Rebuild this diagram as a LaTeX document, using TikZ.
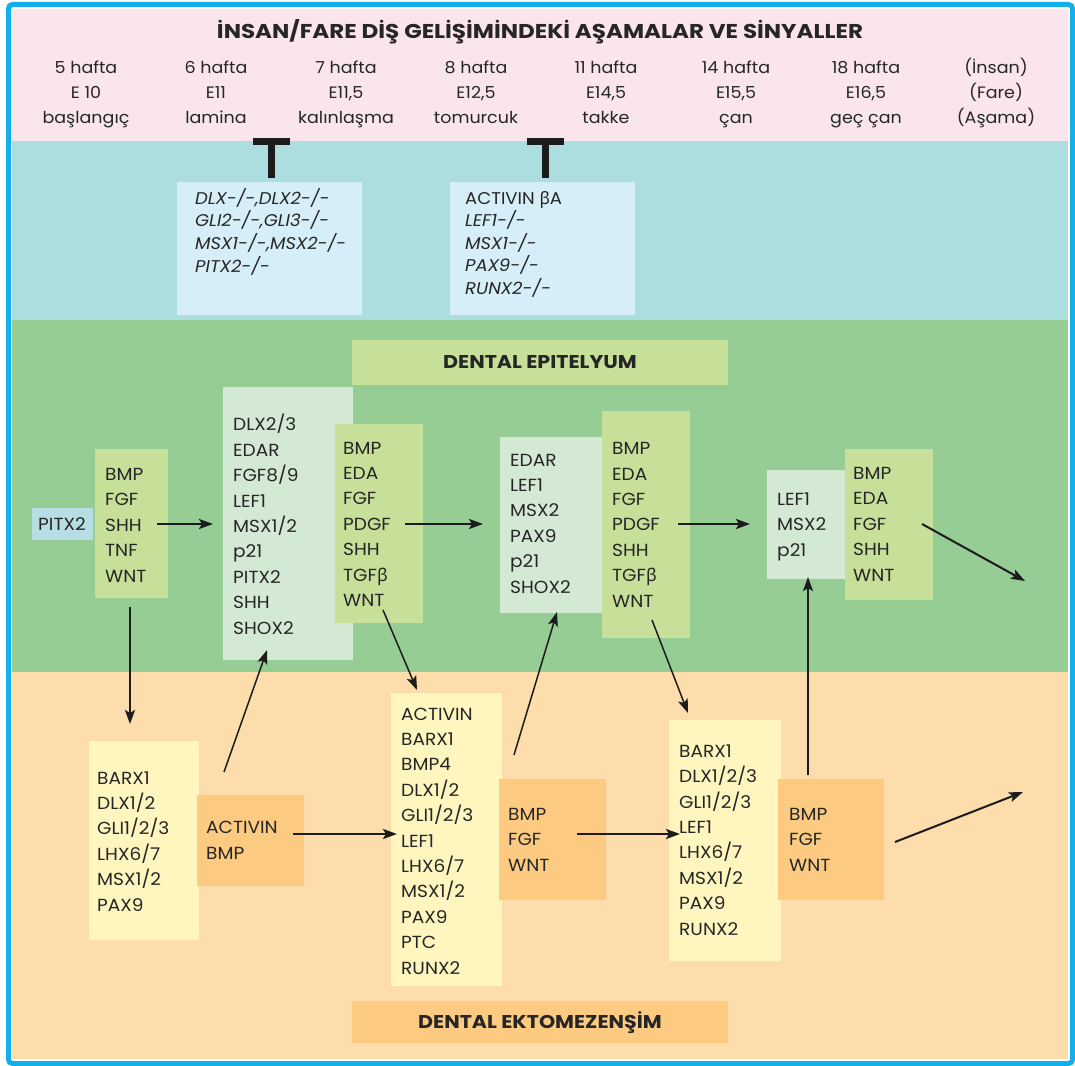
\documentclass[tikz,border=0pt]{standalone}
\usepackage{fontspec}
\setmainfont{Poppins}[FakeStretch=1.06]
\newfontfamily\grk{Noto Sans}
\usetikzlibrary{arrows.meta,fit}
\definecolor{cFrame}{HTML}{12AEEE}
\definecolor{cPink}{HTML}{FAE5EC}
\definecolor{cBlueBand}{HTML}{ACDEDF}
\definecolor{cBlueBox}{HTML}{D5EEF8}
\definecolor{cGreen}{HTML}{95CD95}
\definecolor{cYG}{HTML}{C6DF99}
\definecolor{cPaleG}{HTML}{D4E9D3}
\definecolor{cOrangeBand}{HTML}{FDDDAB}
\definecolor{cPaleY}{HTML}{FFF6BF}
\definecolor{cOrange}{HTML}{FCCB81}
\definecolor{cPitx}{HTML}{B6DEE4}
\definecolor{cText}{HTML}{262626}
\definecolor{cArr}{HTML}{1C1C1C}
\begin{document}
\begin{tikzpicture}[x=1pt,y=-1pt,
  bx/.style={inner sep=0pt, outer sep=0pt, draw=none},
  lst/.style={anchor=base west, align=left, inner sep=0pt, text=cText, font=\fontsize{17.5}{25.4}\selectfont},
  ilst/.style={anchor=base west, align=left, inner sep=0pt, text=cText, font=\itshape\fontsize{17}{22.6}\selectfont},
  hdr/.style={anchor=base, align=center, inner sep=0pt, text=cText, font=\fontsize{16.5}{25}\selectfont},
  ttl/.style={anchor=base, inner sep=0pt, text=cText, font=\bfseries\fontsize{20}{22}\selectfont},
  lbl/.style={anchor=base, inner sep=0pt, text=cText, font=\bfseries\fontsize{18.5}{20}\selectfont},
  arr/.style={draw=cArr, line width=2.4pt, -{Stealth[length=14pt,width=10pt,inset=3pt]}},
  arrt/.style={arr, line width=1.5pt},
  tbar/.style={draw=cArr, line width=7pt}]
\useasboundingbox (0,0) rectangle (1075,1065);
% bands
\fill[cPink] (12,9) rectangle (1068,141);
\fill[cBlueBand] (12,141) rectangle (1068,320);
\fill[cGreen] (12,320) rectangle (1068,672);
\fill[cOrangeBand] (12,672) rectangle (1068,1059);
\draw[cFrame, line width=5pt, rounded corners=4pt] (8.5,4.5) rectangle (1072.5,1063.5);

% title and stages (multi-line nodes: base = last line)
\node[ttl] (title) at (540,38.5) {\scalebox{1.085}[1]{İNSAN/FARE DİŞ GELİŞİMİNDEKİ AŞAMALAR VE SİNYALLER}};
\node[hdr] (h1) at (86,123) {5 hafta\\E 10\\başlangıç};
\node[hdr] (h2) at (216,123) {6 hafta\\E11\\lamina};
\node[hdr] (h3) at (346,123) {7 hafta\\E11,5\\kalınlaşma};
\node[hdr] (h4) at (476,123) {8 hafta\\E12,5\\tomurcuk};
\node[hdr] (h5) at (606,123) {11 hafta\\E14,5\\takke};
\node[hdr] (h6) at (736,123) {14 hafta\\E15,5\\çan};
\node[hdr] (h7) at (866,123) {18 hafta\\E16,5\\geç çan};
\node[hdr] (h8) at (996,123) {(İnsan)\\(Fare)\\(Aşama)};

% knockout boxes
\node[bx, fill=cBlueBox, fit={(177,182)(362,315)}] (inhA) {};
\node[bx, fill=cBlueBox, fit={(450,182)(635,315)}] (inhB) {};
\node[ilst] (inhAt) at (195,272) {DLX-/-,DLX2-/-\\GLI2-/-,GLI3-/-\\MSX1-/-,MSX2-/-\\PITX2-/-};
\node[ilst] (inhBt) at (465,294.5) {{\upshape ACTIVIN {\grk β}A}\\LEF1-/-\\MSX1-/-\\PAX9-/-\\RUNX2-/-};
\draw[tbar] ([xshift=2pt,yshift=4pt]inhA.north) -- ++(0,-37.5);
\draw[tbar] ([xshift=-16.5pt,yshift=40.5pt]inhA.north) -- ++(37,0);
\draw[tbar] ([xshift=2.5pt,yshift=4pt]inhB.north) -- ++(0,-37.5);
\draw[tbar] ([xshift=-16pt,yshift=40.5pt]inhB.north) -- ++(37,0);

% epithelium
\node[bx, fill=cYG, fit={(352,340)(728,385)}] (epiL) {};
\node[lbl] (epiLt) at (540,368.5) {\scalebox{1.05}[1]{DENTAL EPITELYUM}};
\node[bx, fill=cPitx, fit={(32,508)(93,540)}] (pitx) {};
\node[lst] (pitxt) at (38,530) {PITX2};
\node[bx, fill=cYG, fit={(95,449)(168,598)}] (epiA) {};
\node[lst] (epiAt) at (105,582) {BMP\\FGF\\SHH\\TNF\\WNT};
\node[bx, fill=cPaleG, fit={(223,387)(353,660)}] (epiB) {};
\node[lst] (epiBt) at (233,634) {DLX2/3\\EDAR\\FGF8/9\\LEF1\\MSX1/2\\p21\\PITX2\\SHH\\SHOX2};
\node[bx, fill=cYG, fit={(335,424)(423,623)}] (epiC) {};
\node[lst] (epiCt) at (343,606.5) {BMP\\EDA\\FGF\\PDGF\\SHH\\TGF{\grk β}\\WNT};
\node[bx, fill=cPaleG, fit={(500,437)(602,613)}] (epiD) {};
\node[lst] (epiDt) at (510,593) {EDAR\\LEF1\\MSX2\\PAX9\\p21\\SHOX2};
\node[bx, fill=cYG, fit={(602,411)(690,638)}] (epiE) {};
\node[lst] (epiEt) at (612,607) {BMP\\EDA\\FGF\\PDGF\\SHH\\TGF{\grk β}\\WNT};
\node[bx, fill=cPaleG, fit={(767,470)(846,579)}] (epiF) {};
\node[lst] (epiFt) at (777,556) {LEF1\\MSX2\\p21};
\node[bx, fill=cYG, fit={(845,449)(933,600)}] (epiG) {};
\node[lst] (epiGt) at (853,581) {BMP\\EDA\\FGF\\SHH\\WNT};

% mesenchyme
\node[bx, fill=cOrange, fit={(352,1001)(728,1043)}] (mesL) {};
\node[lbl] (mesLt) at (540,1028.5) {\scalebox{1.05}[1]{DENTAL EKTOMEZENŞİM}};
\node[bx, fill=cPaleY, fit={(89,741)(199,940)}] (mesA) {};
\node[lst] (mesAt) at (97,911) {BARX1\\DLX1/2\\GLI1/2/3\\LHX6/7\\MSX1/2\\PAX9};
\node[bx, fill=cOrange, fit={(197,795)(304,886)}] (mesB) {};
\node[lst] (mesBt) at (206,859) {ACTIVIN\\BMP};
\node[bx, fill=cPaleY, fit={(391,693)(502,986)}] (mesC) {};
\node[lst] (mesCt) at (401,974) {ACTIVIN\\BARX1\\BMP4\\DLX1/2\\GLI1/2/3\\LEF1\\LHX6/7\\MSX1/2\\PAX9\\PTC\\RUNX2};
\node[bx, fill=cOrange, fit={(499,779)(606,900)}] (mesD) {};
\node[lst] (mesDt) at (508,871) {BMP\\FGF\\WNT};
\node[bx, fill=cPaleY, fit={(669,720)(781,961)}] (mesE) {};
\node[lst] (mesEt) at (679,935) {BARX1\\DLX1/2/3\\GLI1/2/3\\LEF1\\LHX6/7\\MSX1/2\\PAX9\\RUNX2};
\node[bx, fill=cOrange, fit={(778,779)(884,900)}] (mesF) {};
\node[lst] (mesFt) at (789,871) {BMP\\FGF\\WNT};

% connector end points
\coordinate (a1s) at (157,524);  \coordinate (a1e) at (213,524);
\coordinate (a2s) at (405,524);  \coordinate (a2e) at (483,524);
\coordinate (a3s) at (678,524);  \coordinate (a3e) at (750,524);
\coordinate (a4s) at (922,524);  \coordinate (a4e) at (1025,581);
\coordinate (a5s) at (130,607);  \coordinate (a5e) at (130,724);
\coordinate (a6s) at (224,772);  \coordinate (a6e) at (267,650);
\coordinate (a7s) at (383,610);  \coordinate (a7e) at (417,690);
\coordinate (a8s) at (514,755);  \coordinate (a8e) at (557,612);
\coordinate (a9s) at (652,620);  \coordinate (a9e) at (688,713);
\coordinate (a10s) at (293,834); \coordinate (a10e) at (397,834);
\coordinate (a11s) at (577,834); \coordinate (a11e) at (680,834);
\coordinate (a12s) at (808,775); \coordinate (a12e) at (808,577);
\coordinate (a13s) at (895,842); \coordinate (a13e) at (1023,792);

\draw[arr] (a1s) -- (a1e);
\draw[arr] (a2s) -- (a2e);
\draw[arr] (a3s) -- (a3e);
\draw[arr, line width=2pt] (a4s) -- (a4e);
\draw[arr] (a5s) -- (a5e);
\draw[arrt] (a6s) -- (a6e);
\draw[arrt] (a7s) -- (a7e);
\draw[arrt] (a8s) -- (a8e);
\draw[arrt] (a9s) -- (a9e);
\draw[arr] (a10s) -- (a10e);
\draw[arr] (a11s) -- (a11e);
\draw[arr] (a12s) -- (a12e);
\draw[arr, line width=2pt] (a13s) -- (a13e);
\end{tikzpicture}
\end{document}
